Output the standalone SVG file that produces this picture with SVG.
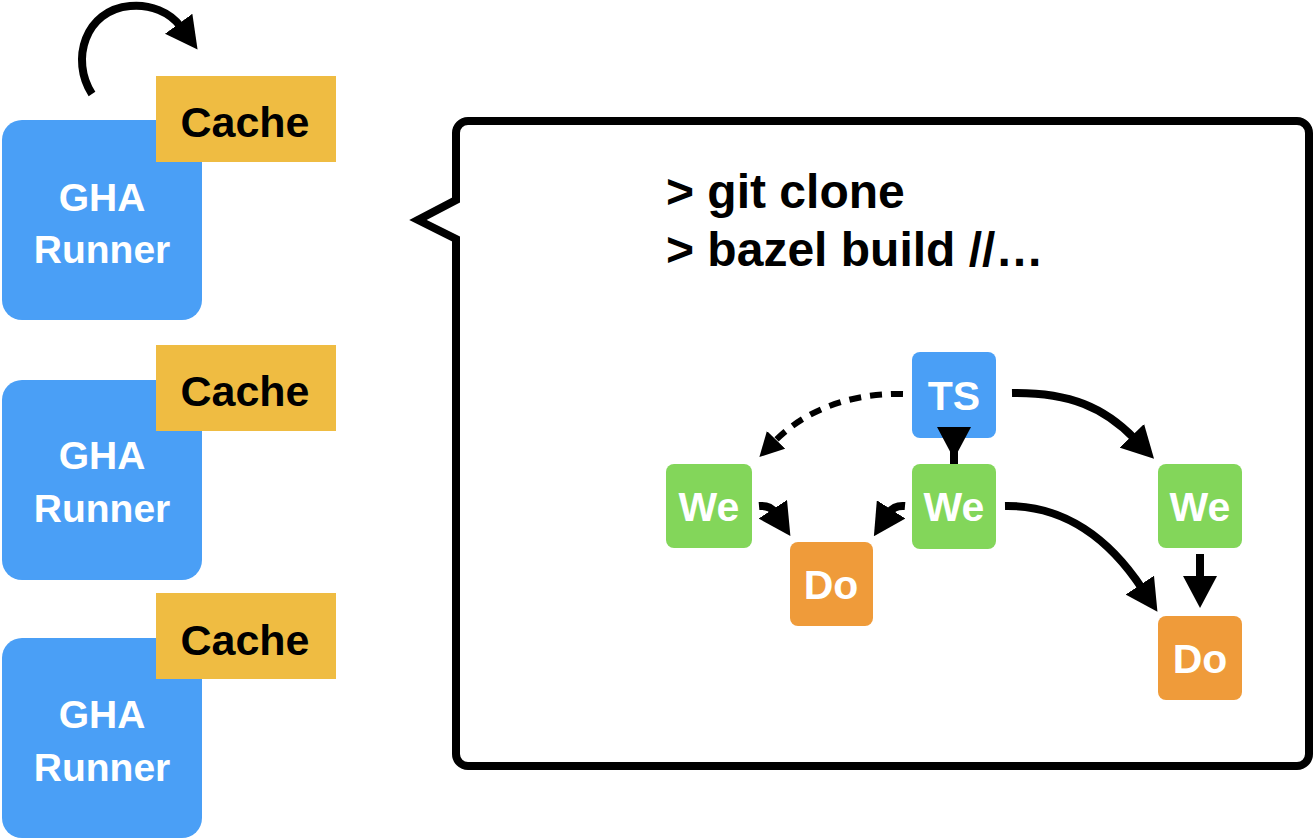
<svg xmlns="http://www.w3.org/2000/svg" width="1316" height="840" viewBox="0 0 1316 840">
<style>
.runner{fill:#4A9FF6}
.cache{fill:#EFBC42}
.ts{fill:#4A9FF6}
.we{fill:#83D65A}
.do{fill:#EF9B3A}
.lbl{font-family:"Liberation Sans",Arial,sans-serif;font-weight:bold;text-anchor:middle}
.wt{fill:#FFFFFF}
.bt{fill:#000000}
.conn{fill:none;stroke:#000;stroke-width:8}
.dash{fill:none;stroke:#000;stroke-width:6;stroke-dasharray:12 9}
.cmd{font-family:"Liberation Sans",Arial,sans-serif;font-weight:bold;font-size:48px;fill:#000}
</style>
<defs>
<marker id="ah" viewBox="0 0 32 34" refX="4" refY="17" markerWidth="4" markerHeight="4.25" markerUnits="strokeWidth" orient="auto">
<path d="M0,0 L32,17 L0,34 Z" fill="#000"/>
</marker>
</defs>
<rect width="1316" height="840" fill="#FFFFFF"/>

<g id="runner1">
<rect class="runner" x="2" y="120" width="200" height="200" rx="20"/>
<text class="lbl wt" x="102" y="211" font-size="39">GHA</text>
<text class="lbl wt" x="102" y="263" font-size="39">Runner</text>
</g>
<g id="cache1">
<rect class="cache" x="156" y="76" width="180" height="86"/>
<text class="lbl bt" x="245" y="137" font-size="43">Cache</text>
</g>

<g id="runner2">
<rect class="runner" x="2" y="380" width="200" height="200" rx="20"/>
<text class="lbl wt" x="102" y="469" font-size="39">GHA</text>
<text class="lbl wt" x="102" y="522" font-size="39">Runner</text>
</g>
<g id="cache2">
<rect class="cache" x="156" y="345" width="180" height="86"/>
<text class="lbl bt" x="245" y="406" font-size="43">Cache</text>
</g>

<g id="runner3">
<rect class="runner" x="2" y="638" width="200" height="200" rx="20"/>
<text class="lbl wt" x="102" y="728" font-size="39">GHA</text>
<text class="lbl wt" x="102" y="781" font-size="39">Runner</text>
</g>
<g id="cache3">
<rect class="cache" x="156" y="593" width="180" height="86"/>
<text class="lbl bt" x="245" y="655" font-size="43">Cache</text>
</g>

<g id="bubble">
<path d="M468,121 H1297 A12,12 0 0 1 1309,133 V754 A12,12 0 0 1 1297,766 H468 A12,12 0 0 1 456,754 V239 L418,220 L456,200 V133 A12,12 0 0 1 468,121 Z" fill="#FFFFFF" stroke="#000" stroke-width="8" stroke-linejoin="miter"/>
<text class="cmd" x="666" y="208">&gt; git clone</text>
<text class="cmd" x="666" y="266">&gt; bazel build //…</text>
</g>

<g id="ts">
<rect class="ts" x="912" y="352" width="84" height="86" rx="8"/>
<text class="lbl wt" x="954" y="410" font-size="41">TS</text>
</g>
<g id="we-left">
<rect class="we" x="666" y="464" width="86" height="84" rx="8"/>
<text class="lbl wt" x="709" y="521" font-size="41">We</text>
</g>
<g id="we-mid">
<rect class="we" x="912" y="464" width="84" height="85" rx="8"/>
<text class="lbl wt" x="954" y="521" font-size="41">We</text>
</g>
<g id="we-right">
<rect class="we" x="1158" y="464" width="84" height="84" rx="8"/>
<text class="lbl wt" x="1200" y="521" font-size="41">We</text>
</g>
<g id="do-left">
<rect class="do" x="790" y="542" width="83" height="84" rx="8"/>
<text class="lbl wt" x="831" y="599" font-size="41">Do</text>
</g>
<g id="do-right">
<rect class="do" x="1158" y="616" width="84" height="84" rx="8"/>
<text class="lbl wt" x="1200" y="673" font-size="41">Do</text>
</g>

<g id="connectors">
<path class="conn" d="M92,94 C70,60 85,10 130,6 C150,4 170,12 181,27" marker-end="url(#ah)"/>
<path class="dash" d="M903,394 C850,393 805,410 774,442" marker-end="url(#ah)"/>
<path class="conn" d="M954,429 L954,431" marker-end="url(#ah)"/>
<path class="conn" d="M954,448 L954,464"/>
<path class="conn" d="M759,506 Q770,505 775,512.6" marker-end="url(#ah)"/>
<path class="conn" d="M905,506 Q894,505 889,512.8" marker-end="url(#ah)"/>
<path class="conn" d="M1012,393 C1070,392 1105,408 1134.6,438.7" marker-end="url(#ah)"/>
<path class="conn" d="M1005,506 C1065,505 1110,540 1142,588.4" marker-end="url(#ah)"/>
<path class="conn" d="M1200,554 L1200,580" marker-end="url(#ah)"/>
</g>
</svg>
